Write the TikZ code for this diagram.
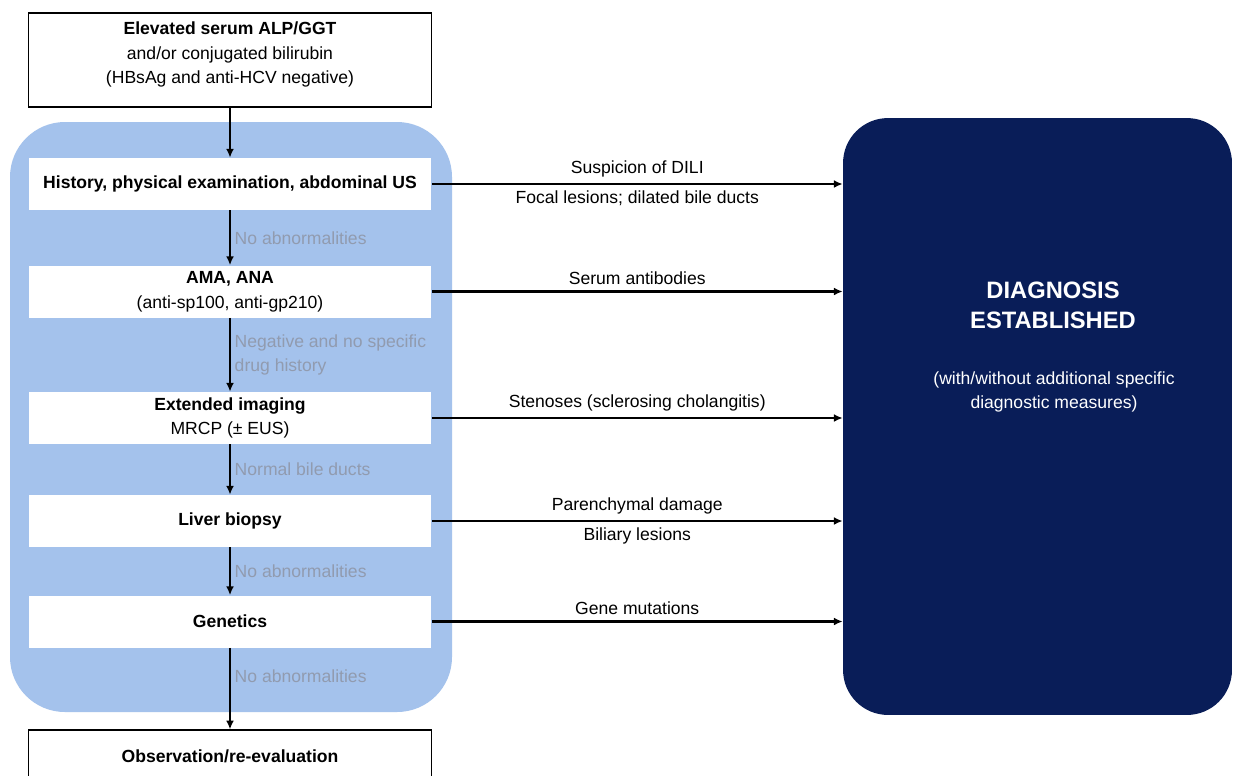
\documentclass[tikz,border=0pt]{standalone}
\usepackage{fontspec}
\setmainfont{Liberation Sans}
\usepackage{xcolor}
\usetikzlibrary{calc, positioning}
\usetikzlibrary{arrows.meta}
\tikzset{>={Latex[length=5pt,width=4.5pt]}}
\definecolor{panelblue}{RGB}{164,194,236}
\definecolor{navy}{RGB}{9,29,88}
\definecolor{notegray}{RGB}{145,155,175}
\tikzset{
  stagebox/.style={fill=white, minimum width=8.06cm, minimum height=1.04cm, align=center, inner sep=0pt},
  endbox/.style={draw=black, line width=0.7pt, fill=white, minimum width=8.06cm, align=center},
  flow/.style={->, line width=1.4pt},
  note/.style={text=notegray, right, align=left, inner sep=2pt},
}

\begin{document}
\begin{tikzpicture}[x=0.02cm, y=-0.02cm, font=\fontsize{10}{14}\selectfont]
			\useasboundingbox (0,0) rectangle (1233,775);
			\fill[white] (0,0) rectangle (1233,775);
			\fill[panelblue, rounded corners=1.1cm] (10,122) rectangle (452,712);
			\node[endbox, minimum height=1.88cm] (start) at (230,60) {\textbf{Elevated serum ALP/GGT}\\and/or conjugated bilirubin\\(HBsAg and anti-HCV negative)\\[-6pt]};
			\node[stagebox] (hist) at (230,184) {\textbf{History, physical examination, abdominal US}};
			\node[stagebox] (auto) at (230,291.5) {\textbf{AMA, ANA}\\(anti-sp100, anti-gp210)};
			\node[stagebox] (imag) at (230,418) {\textbf{Extended imaging}\\MRCP (± EUS)};
			\node[stagebox] (biop) at (230,521) {\textbf{Liver biopsy}};
			\node[stagebox] (gene) at (230,621.5) {\textbf{Genetics}};
			\node[endbox, minimum height=1.04cm] (obs) at (230,756) {\textbf{Observation/re-evaluation}};
			\node[fill=navy, rounded corners=0.9cm, minimum width=7.78cm, minimum height=11.94cm] (diag) at (1037.5,416.5) {};
			\node[text=white, font=\fontsize{13.5}{17}\selectfont\bfseries, align=center] (diagtitle) at (1053,305) {DIAGNOSIS\\ESTABLISHED};
			\node[text=white, align=center] (diagnote) at (1054,392) {(with/without additional specific\\diagnostic measures)};
			\draw[flow] (start) -- (hist);
			\draw[flow] (hist) -- (auto) node[note, midway]{No abnormalities};
			\draw[flow] (auto) -- (imag) node[note, midway]{Negative and no specific\\drug history};
			\draw[flow] (imag) -- (biop) node[note, midway]{Normal bile ducts};
			\draw[flow] (biop) -- (gene) node[note, midway]{No abnormalities};
			\draw[flow] (gene) -- (obs) node[note, pos=0.35]{No abnormalities};
			\draw[flow] (hist.east) -- (hist.east -| diag.west) node[midway, above]{Suspicion of DILI} node[midway, below]{Focal lesions; dilated bile ducts};
			\draw[flow] (auto.east) -- (auto.east -| diag.west) node[midway, above]{Serum antibodies};
			\draw[flow] (imag.east) -- (imag.east -| diag.west) node[midway, above]{Stenoses (sclerosing cholangitis)};
			\draw[flow] (biop.east) -- (biop.east -| diag.west) node[midway, above]{Parenchymal damage} node[midway, below]{Biliary lesions};
			\draw[flow] (gene.east) -- (gene.east -| diag.west) node[midway, above]{Gene mutations};
		\end{tikzpicture}
\end{document}
